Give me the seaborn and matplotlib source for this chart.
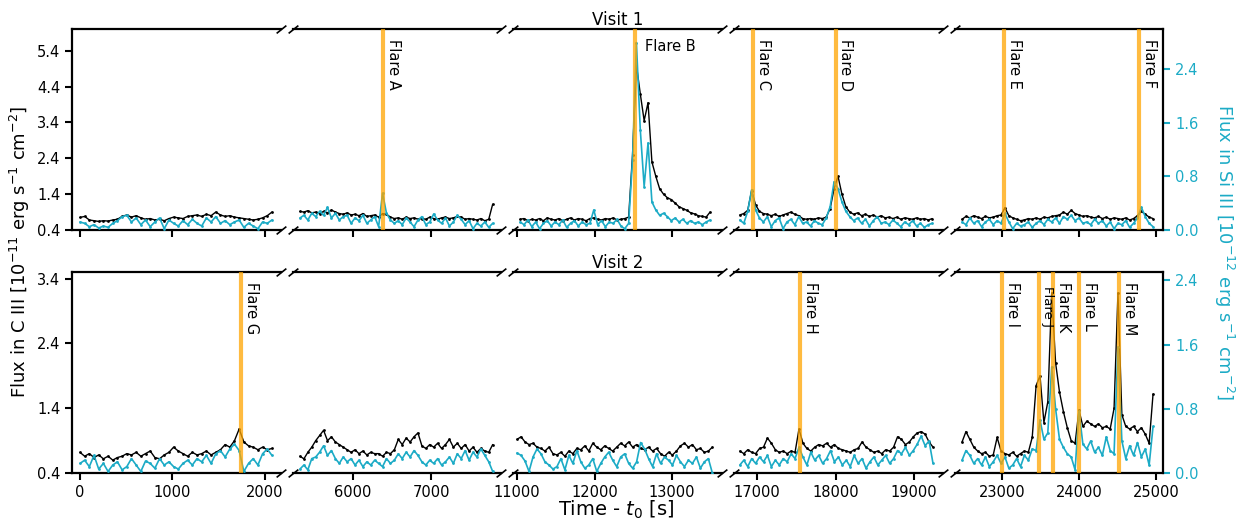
import numpy as np
import matplotlib
matplotlib.use("Agg")
import matplotlib.pyplot as plt
import seaborn as sns

# ---- data ----
# time ranges of the 5 observation chunks per visit [s]
bounds_visit1 = [(0, 2075), (5320, 7790), (11040, 13490), (16780, 19230), (22480, 24960)]
bounds_visit2 = [(0, 2075), (5320, 7790), (11000, 13520), (16780, 19240), (22480, 24960)]

# C III flux [1e-11 erg/s/cm2], visit 1
c3_v1_a = [0.75, 0.78, 0.68, 0.66, 0.64, 0.66, 0.65, 0.68, 0.70, 0.78, 0.82, 0.76, 0.80, 0.74,
           0.70, 0.72, 0.68, 0.70, 0.66, 0.72, 0.76, 0.74, 0.72, 0.78, 0.80, 0.82, 0.78, 0.84,
           0.80, 0.90, 0.82, 0.78, 0.80, 0.76, 0.74, 0.72, 0.70, 0.68, 0.70, 0.74, 0.80, 0.90]
c3_v1_b = [0.92, 0.90, 0.94, 0.88, 0.90, 0.86, 0.92, 0.88, 0.96, 0.90, 0.86, 0.84, 0.88, 0.82,
           0.84, 0.80, 0.86, 0.78, 0.80, 0.82, 0.76, 0.86, 0.84, 0.76, 0.72, 0.74, 0.70, 0.76,
           0.72, 0.74, 0.70, 0.72, 0.70, 0.76, 0.72, 0.70, 0.74, 0.76, 0.72, 0.74, 0.78, 0.76,
           0.70, 0.72, 0.70, 0.68, 0.72, 0.66, 0.70, 1.12]
c3_v1_c = [0.70, 0.72, 0.66, 0.70, 0.68, 0.72, 0.66, 0.74, 0.70, 0.68, 0.72, 0.66, 0.70, 0.74,
           0.68, 0.72, 0.70, 0.66, 0.72, 0.74, 0.70, 0.68, 0.72, 0.70, 0.74, 0.68, 0.70, 0.72,
           0.76, 2.50, 5.00, 4.20, 3.45, 3.95, 2.30, 1.90, 1.55, 1.40, 1.30, 1.25, 1.15, 1.05,
           1.00, 0.95, 0.88, 0.85, 0.80, 0.78, 0.76, 0.90]
c3_v1_d = [0.82, 0.86, 0.95, 1.50, 1.10, 0.92, 0.86, 0.84, 0.80, 0.84, 0.78, 0.82, 0.86, 0.90,
           0.84, 0.80, 0.72, 0.70, 0.72, 0.70, 0.74, 0.72, 0.76, 1.00, 1.55, 1.90, 1.40, 1.05,
           0.90, 0.84, 0.88, 0.80, 0.84, 0.78, 0.82, 0.76, 0.80, 0.74, 0.76, 0.72, 0.76, 0.70,
           0.74, 0.72, 0.70, 0.74, 0.70, 0.72, 0.68, 0.72]
c3_v1_e = [0.70, 0.78, 0.74, 0.80, 0.76, 0.72, 0.78, 0.74, 0.76, 0.80, 0.82, 1.02, 0.80, 0.74,
           0.70, 0.66, 0.68, 0.72, 0.70, 0.74, 0.70, 0.76, 0.74, 0.78, 0.80, 0.82, 0.90, 0.84,
           0.95, 0.86, 0.82, 0.78, 0.80, 0.76, 0.74, 0.78, 0.72, 0.76, 0.70, 0.74, 0.72, 0.70,
           0.74, 0.68, 0.72, 0.80, 0.92, 0.84, 0.76, 0.72]

# Si III flux [1e-12 erg/s/cm2], visit 1
si3_v1_a = [0.12, 0.10, 0.05, 0.08, 0.03, 0.06, 0.04, 0.10, 0.14, 0.20, 0.22, 0.12, 0.18, 0.08,
            0.15, 0.05, 0.12, 0.18, 0.02, 0.15, 0.10, 0.06, 0.14, 0.08, 0.16, 0.10, 0.06, 0.18,
            0.12, 0.20, 0.10, 0.14, 0.08, 0.12, 0.15, 0.04, 0.10, 0.06, 0.02, 0.12, 0.10, 0.15]
si3_v1_b = [0.18, 0.22, 0.15, 0.25, 0.20, 0.28, 0.22, 0.34, 0.18, 0.25, 0.15, 0.20, 0.22, 0.10,
            0.18, 0.14, 0.22, 0.10, 0.15, 0.20, 0.05, 0.55, 0.25, 0.15, 0.10, 0.14, 0.08, 0.18,
            0.12, 0.05, 0.15, 0.20, 0.08, 0.12, 0.24, 0.15, 0.10, 0.18, 0.06, 0.12, 0.22, 0.16,
            0.08, 0.14, 0.02, 0.10, 0.06, 0.12, 0.04, 0.10]
si3_v1_c = [0.12, 0.08, 0.15, 0.05, 0.12, 0.02, 0.10, 0.14, 0.06, 0.12, 0.08, 0.15, 0.04, 0.10,
            0.14, 0.06, 0.12, 0.08, 0.10, 0.30, 0.08, 0.14, 0.05, 0.12, 0.10, 0.16, 0.06, 0.02,
            0.10, 1.05, 2.80, 1.50, 0.65, 1.30, 0.42, 0.30, 0.22, 0.25, 0.20, 0.14, 0.18, 0.12,
            0.16, 0.10, 0.14, 0.10, 0.12, 0.08, 0.12, 0.15]
si3_v1_d = [0.15, 0.10, 0.28, 0.60, 0.30, 0.18, 0.12, 0.20, 0.05, 0.14, 0.18, 0.02, 0.12, 0.16,
            0.08, 0.20, 0.10, 0.12, 0.06, 0.14, 0.10, 0.08, 0.18, 0.35, 0.72, 0.62, 0.42, 0.28,
            0.20, 0.14, 0.18, 0.10, 0.16, 0.06, 0.14, 0.20, 0.10, 0.12, 0.08, 0.15, 0.10, 0.05,
            0.12, 0.08, 0.14, 0.06, 0.10, 0.04, 0.08, 0.10]
si3_v1_e = [0.12, 0.08, 0.18, 0.10, 0.14, 0.05, 0.12, 0.16, 0.08, 0.14, 0.10, 0.25, 0.12, 0.02,
            0.10, 0.06, 0.08, 0.12, 0.04, 0.10, 0.14, 0.08, 0.16, 0.12, 0.18, 0.10, 0.20, 0.16,
            0.22, 0.14, 0.18, 0.10, 0.12, 0.08, 0.16, 0.10, 0.14, 0.06, 0.12, 0.02, 0.10, 0.08,
            0.14, 0.04, 0.10, 0.18, 0.34, 0.20, 0.10, 0.05]

# C III flux, visit 2
c3_v2_a = [0.72, 0.66, 0.70, 0.64, 0.68, 0.62, 0.66, 0.60, 0.64, 0.66, 0.70, 0.68, 0.72, 0.66,
           0.70, 0.74, 0.64, 0.62, 0.68, 0.72, 0.80, 0.74, 0.70, 0.66, 0.72, 0.68, 0.70, 0.74,
           0.68, 0.72, 0.76, 0.84, 0.80, 0.90, 1.08, 0.88, 0.82, 0.80, 0.76, 0.80, 0.76, 0.78]
c3_v2_b = [0.66, 0.62, 0.72, 0.80, 0.90, 0.98, 1.06, 0.90, 0.96, 0.88, 0.84, 0.80, 0.76, 0.72,
           0.76, 0.70, 0.74, 0.68, 0.72, 0.70, 0.70, 0.66, 0.72, 0.70, 0.76, 0.92, 0.84, 0.94,
           0.88, 0.96, 1.02, 0.82, 0.78, 0.84, 0.80, 0.86, 0.78, 0.84, 0.92, 0.80, 0.86, 0.78,
           0.84, 0.74, 0.80, 0.72, 0.78, 0.74, 0.72, 0.84]
c3_v2_c = [0.92, 0.96, 0.88, 0.84, 0.86, 0.80, 0.78, 0.74, 0.80, 0.70, 0.68, 0.72, 0.66, 0.74,
           0.70, 0.78, 0.76, 0.82, 0.74, 0.86, 0.80, 0.76, 0.82, 0.78, 0.74, 0.80, 0.86, 0.82,
           0.88, 0.80, 0.84, 0.78, 0.76, 0.80, 0.74, 0.78, 0.70, 0.66, 0.72, 0.68, 0.74, 0.82,
           0.86, 0.80, 0.84, 0.76, 0.78, 0.72, 0.74, 0.80]
c3_v2_d = [0.74, 0.70, 0.76, 0.72, 0.70, 0.78, 0.80, 0.94, 0.86, 0.76, 0.72, 0.74, 0.70, 0.74,
           0.72, 1.08, 0.86, 0.78, 0.74, 0.80, 0.84, 0.82, 0.86, 0.80, 0.84, 0.78, 0.76, 0.74,
           0.72, 0.76, 0.78, 0.88, 0.80, 0.76, 0.72, 0.74, 0.70, 0.76, 0.74, 0.80, 0.96, 0.92,
           0.84, 0.88, 0.96, 1.02, 1.04, 1.00, 0.88, 0.80]
c3_v2_e = [0.88, 1.04, 0.92, 0.80, 0.74, 0.70, 0.72, 0.66, 0.68, 0.95, 0.74, 0.70, 0.68, 0.72,
           0.66, 0.70, 0.74, 0.72, 0.95, 1.75, 1.90, 1.18, 1.50, 3.18, 2.10, 1.65, 1.35, 1.10,
           0.90, 0.86, 1.37, 1.12, 1.20, 1.16, 1.12, 1.16, 1.10, 1.12, 1.08, 1.40, 3.18, 1.30,
           1.12, 1.08, 1.12, 1.04, 1.10, 1.00, 0.86, 1.62]

# Si III flux, visit 2
si3_v2_a = [0.12, 0.16, 0.08, 0.22, 0.05, 0.12, 0.02, 0.10, 0.14, 0.04, 0.08, 0.18, 0.10, 0.02,
            0.15, 0.12, 0.06, 0.18, 0.10, 0.14, 0.08, 0.05, 0.12, 0.16, 0.10, 0.18, 0.14, 0.22,
            0.12, 0.24, 0.28, 0.20, 0.30, 0.36, 0.28, 0.02, 0.12, 0.18, 0.10, 0.24, 0.30, 0.22]
si3_v2_b = [0.05, 0.10, 0.04, 0.18, 0.20, 0.26, 0.34, 0.22, 0.28, 0.18, 0.12, 0.20, 0.14, 0.18,
            0.10, 0.16, 0.08, 0.14, 0.10, 0.16, 0.12, 0.08, 0.18, 0.12, 0.16, 0.24, 0.18, 0.26,
            0.20, 0.28, 0.22, 0.14, 0.10, 0.16, 0.12, 0.18, 0.10, 0.14, 0.20, 0.12, 0.24, 0.18,
            0.28, 0.16, 0.26, 0.20, 0.30, 0.22, 0.14, 0.02]
si3_v2_c = [0.25, 0.22, 0.15, 0.02, 0.20, 0.30, 0.24, 0.14, 0.10, 0.05, 0.08, 0.18, 0.04, 0.22,
            0.12, 0.28, 0.14, 0.06, 0.10, 0.18, 0.02, 0.12, 0.20, 0.26, 0.16, 0.08, 0.20, 0.24,
            0.12, 0.06, 0.14, 0.38, 0.30, 0.18, 0.08, 0.24, 0.12, 0.20, 0.16, 0.10, 0.22, 0.14,
            0.08, 0.16, 0.12, 0.20, 0.06, 0.14, 0.18, 0.00]
si3_v2_d = [0.10, 0.16, 0.08, 0.18, 0.12, 0.20, 0.14, 0.22, 0.08, 0.16, 0.10, 0.18, 0.14, 0.24,
            0.18, 0.32, 0.20, 0.10, 0.26, 0.16, 0.22, 0.12, 0.18, 0.28, 0.14, 0.20, 0.10, 0.16,
            0.08, 0.22, 0.12, 0.18, 0.06, 0.14, 0.20, 0.10, 0.16, 0.22, 0.12, 0.18, 0.28, 0.24,
            0.32, 0.22, 0.28, 0.36, 0.46, 0.34, 0.40, 0.12]
si3_v2_e = [0.16, 0.28, 0.22, 0.12, 0.18, 0.10, 0.20, 0.08, 0.14, 0.22, 0.12, 0.20, 0.06, 0.10,
            0.18, 0.08, 0.22, 0.16, 0.30, 0.28, 0.66, 0.42, 0.50, 1.32, 0.80, 0.42, 0.32, 0.24,
            0.20, 0.04, 0.77, 0.36, 0.30, 0.40, 0.26, 0.32, 0.22, 0.45, 0.28, 0.24, 1.57, 0.40,
            0.18, 0.34, 0.22, 0.38, 0.20, 0.30, 0.10, 0.58]

# flare epochs [s] and names
flare_times_v1 = [6385, 12523, 16950, 18000, 23026, 24779]
flare_names_v1 = ["A", "B", "C", "D", "E", "F"]
flare_times_v2 = [1740, 17548, 23000, 23480, 23662, 24000, 24520]
flare_names_v2 = ["G", "H", "I", "J", "K", "L", "M"]

# x windows of the broken axis and their ticks
xlims = [(-86, 2169), (5226, 7900), (10951, 13643), (16704, 19361), (22382, 25091)]
xticks = [[0, 1000, 2000], [6000, 7000], [11000, 12000, 13000],
          [17000, 18000, 19000], [23000, 24000, 25000]]

# ---- style ----
sns.set_style("ticks")
plt.rcParams["font.family"] = ["DejaVu Sans"]
plt.rcParams["mathtext.fontset"] = "dejavusans"
plt.rcParams.update({"axes.edgecolor": "black", "xtick.color": "black",
                     "ytick.color": "black", "text.color": "black",
                     "axes.labelcolor": "black"})
cyan = "#1cabc6"

visits = [
    dict(title="Visit 1", bounds=bounds_visit1,
         c3=[c3_v1_a, c3_v1_b, c3_v1_c, c3_v1_d, c3_v1_e],
         si3=[si3_v1_a, si3_v1_b, si3_v1_c, si3_v1_d, si3_v1_e],
         ylim=(0.4, 6.0), yticks=[0.4, 1.4, 2.4, 3.4, 4.4, 5.4],
         ylim2=(0.0, 3.0), flares=flare_times_v1, names=flare_names_v1),
    dict(title="Visit 2", bounds=bounds_visit2,
         c3=[c3_v2_a, c3_v2_b, c3_v2_c, c3_v2_d, c3_v2_e],
         si3=[si3_v2_a, si3_v2_b, si3_v2_c, si3_v2_d, si3_v2_e],
         ylim=(0.4, 3.5), yticks=[0.4, 1.4, 2.4, 3.4],
         ylim2=(0.0, 2.5), flares=flare_times_v2, names=flare_names_v2),
]
yticks2 = [0.0, 0.8, 1.6, 2.4]

fig = plt.figure(figsize=(12.48, 5.21), dpi=100)
gs = fig.add_gridspec(2, 5, left=0.0577, right=0.932, top=0.944, bottom=0.092,
                      hspace=0.21, wspace=0.0575)

brk = dict(marker=[(-1, -0.8), (1, 0.8)], markersize=7, linestyle="none",
           color="k", mec="k", mew=1.2, clip_on=False)

for r, v in enumerate(visits):
    for c in range(5):
        ax = fig.add_subplot(gs[r, c])
        ax2 = ax.twinx()

        t0, t1 = v["bounds"][c]
        t = np.linspace(t0, t1, len(v["c3"][c]))
        sns.lineplot(x=t, y=v["c3"][c], ax=ax, color="k", linewidth=1,
                     marker=".", markersize=4, markeredgewidth=0)
        t = np.linspace(t0, t1, len(v["si3"][c]))
        sns.lineplot(x=t, y=v["si3"][c], ax=ax2, color=cyan, linewidth=1.2,
                     marker=".", markersize=4, markeredgewidth=0)

        ax.set_xlim(*xlims[c])
        ax.set_ylim(*v["ylim"])
        ax2.set_ylim(*v["ylim2"])

        # flares
        for ft, name in zip(v["flares"], v["names"]):
            if not (xlims[c][0] < ft < xlims[c][1]):
                continue
            ax2.axvline(ft, color="orange", alpha=0.75, lw=3, zorder=5)
            if name == "B":
                ax2.annotate("Flare " + name, xy=(ft, 0.95), xycoords=("data", "axes fraction"),
                             xytext=(7, 0), textcoords="offset points",
                             ha="left", va="top", fontsize=10.5, zorder=10)
            else:
                fs = 9.5 if name == "J" else 10.5
                yy = 0.93 if name == "J" else 0.95
                dx = 1.2 if name == "J" else 2
                ax2.annotate("Flare " + name, xy=(ft, yy), xycoords=("data", "axes fraction"),
                             xytext=(dx, 0), textcoords="offset points", rotation=-90,
                             ha="left", va="top", fontsize=fs, zorder=10)

        # spines
        for a in (ax, ax2):
            for s in a.spines.values():
                s.set_linewidth(1.6)
                s.set_color("black")
        ax.spines["right"].set_visible(False)
        ax.spines["left"].set_visible(c == 0)
        for s in ("top", "bottom", "left"):
            ax2.spines[s].set_visible(False)
        ax2.spines["right"].set_visible(c == 4)

        # ticks
        ax.tick_params(axis="both", direction="out", length=5, width=1.5, labelsize=10.5)
        if r == 1:
            ax.set_xticks(xticks[c], labels=[str(x) for x in xticks[c]])
        else:
            ax.set_xticks(xticks[c])
            ax.tick_params(axis="x", labelbottom=False)
        if c == 0:
            ax.set_yticks(v["yticks"], labels=[f"{y:.1f}" for y in v["yticks"]])
        else:
            ax.set_yticks([])
        if c == 4:
            ax2.set_yticks(yticks2, labels=[f"{y:.1f}" for y in yticks2])
            ax2.tick_params(axis="y", colors=cyan, direction="out", length=5, width=1.5,
                            labelsize=10.5)
        else:
            ax2.set_yticks([])

        # break marks
        if c > 0:
            ax.plot([0, 0], [0, 1], transform=ax.transAxes, **brk)
        if c < 4:
            ax.plot([1, 1], [0, 1], transform=ax.transAxes, **brk)

        if c == 2:
            ax.set_title(v["title"], fontsize=12, pad=3)

fig.text(0.016, 0.516, "Flux in C III [10$^{-11}$ erg s$^{-1}$ cm$^{-2}$]",
         rotation=90, ha="center", va="center", fontsize=13)
fig.text(0.981, 0.516, "Flux in Si III [10$^{-12}$ erg s$^{-1}$ cm$^{-2}$]",
         rotation=270, ha="center", va="center", fontsize=13, color=cyan)
fig.text(0.494, 0.022, "Time - $t_0$ [s]", ha="center", va="center", fontsize=14)

fig.savefig("out.png", dpi=100)
